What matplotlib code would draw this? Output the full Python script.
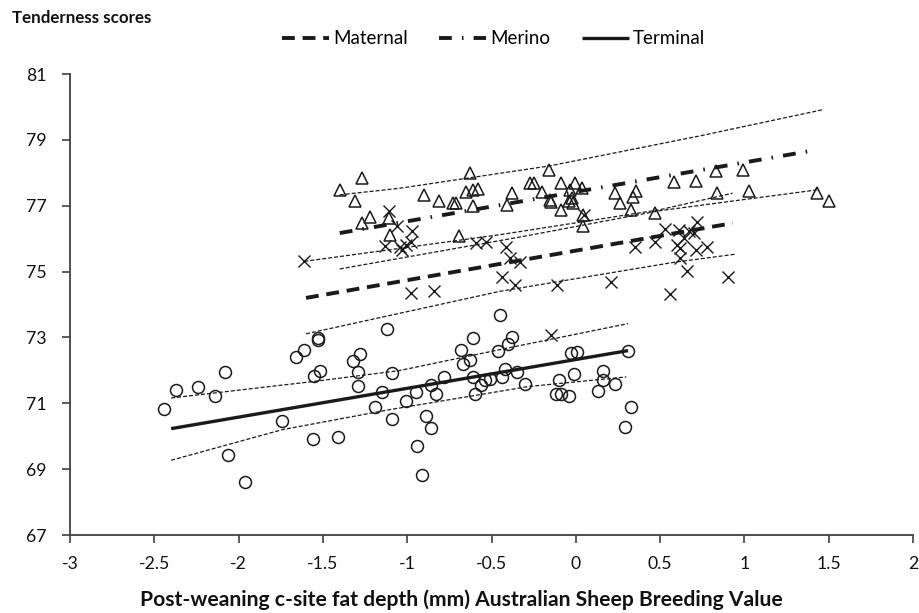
import matplotlib
matplotlib.use("Agg")
import matplotlib.pyplot as plt
from matplotlib.lines import Line2D
import numpy as np

# Terminal sires (circles)
term_x = [-2.44, -2.37, -2.24, -2.14, -2.08, -2.06, -1.96, -1.74, -1.66, -1.61,
          -1.53, -1.53, -1.56, -1.55, -1.52, -1.41, -1.32, -1.28, -1.29, -1.29,
          -1.12, -1.09, -1.15, -1.19, -1.09, -1.01, -0.95, -0.89, -0.86, -0.94,
          -0.91, -0.86, -0.83, -0.78, -0.68, -0.67, -0.63, -0.61, -0.61, -0.60,
          -0.56, -0.54, -0.51, -0.45, -0.46, -0.40, -0.38, -0.44, -0.42, -0.35,
          -0.30, -0.10, -0.12, -0.09, -0.04, -0.03, 0.01, -0.01, 0.13, 0.16,
          0.16, 0.23, 0.31, 0.33, 0.29]
term_y = [70.84, 71.41, 71.48, 71.23, 71.94, 69.44, 68.62, 70.47, 72.41, 72.63,
          72.98, 72.93, 69.93, 71.84, 71.97, 69.98, 72.29, 72.51, 71.95, 71.54,
          73.26, 71.92, 71.33, 70.89, 70.52, 71.08, 71.34, 70.60, 70.25, 69.71,
          68.81, 71.56, 71.29, 71.80, 72.63, 72.20, 72.30, 72.98, 71.80, 71.29,
          71.57, 71.70, 71.74, 73.69, 72.60, 72.80, 73.01, 71.80, 72.04, 71.94,
          71.59, 71.70, 71.29, 71.29, 71.21, 72.53, 72.57, 71.90, 71.37, 71.99,
          71.72, 71.59, 72.58, 70.89, 70.27]

# Maternal sires (crosses)
mat_x = [-1.61, -1.11, -1.06, -0.97, -0.975, -1.13, -1.04, -1.01, -1.03, -0.98,
         -0.84, -0.59, -0.53, -0.415, -0.39, -0.44, -0.36, -0.33, -0.11, 0.21,
         0.56, -0.15, 0.35, 0.47, 0.53, 0.05, 0.61, 0.72, 0.67, 0.64,
         0.70, 0.60, 0.62, 0.71, 0.78, 0.62, 0.66, 0.90]
mat_y = [75.31, 76.85, 76.37, 76.22, 75.91, 75.78, 75.74, 75.81, 75.66, 74.35,
         74.40, 75.86, 75.91, 75.74, 75.41, 74.85, 74.60, 75.28, 74.60, 74.67,
         74.32, 73.06, 75.76, 75.91, 76.29, 76.72, 76.27, 76.52, 76.22, 76.02,
         76.17, 75.81, 75.71, 75.66, 75.74, 75.41, 75.03, 74.85]

# Merino sires (triangles)
mer_x = [-1.40, -1.27, -1.31, -1.27, -1.22, -1.11, -1.10, -0.90, -0.81, -0.73,
         -0.71, -0.61, -0.69, -0.625, -0.65, -0.61, -0.58, -0.38, -0.41, -0.16,
         -0.27, -0.25, -0.20, -0.155, -0.145, -0.09, -0.085, -0.035, -0.005, -0.025,
         -0.016, -0.04, 0.034, 0.04, 0.04, 0.23, 0.26, 0.34, 0.36, 0.33,
         0.47, 0.58, 0.71, 0.83, 0.99, 0.84, 1.03, 1.43, 1.50]
mer_y = [77.48, 77.84, 77.13, 76.49, 76.65, 76.62, 76.12, 77.33, 77.13, 77.08,
         77.08, 76.98, 76.07, 77.99, 77.43, 77.48, 77.51, 77.38, 77.03, 78.09,
         77.69, 77.69, 77.43, 77.18, 77.10, 77.69, 76.88, 77.48, 77.69, 77.23,
         77.08, 77.13, 77.53, 76.73, 76.37, 77.38, 77.08, 77.25, 77.46, 76.88,
         76.78, 77.72, 77.74, 78.04, 78.09, 77.38, 77.46, 77.40, 77.13]

# regression lines
mat_fit_x = [-1.60, 0.93]
mat_fit_y = [74.20, 76.47]
mer_fit_x = [-1.40, 1.41]
mer_fit_y = [76.17, 78.68]
term_fit_x = [-2.40, 0.31]
term_fit_y = [70.23, 72.60]

# confidence bands
mat_up_x = [-1.61, -0.45, 0.50, 0.93]
mat_up_y = [75.31, 76.12, 76.88, 77.38]
mat_lo_x = [-1.60, -0.45, 0.58, 0.95]
mat_lo_y = [73.11, 74.40, 75.28, 75.53]
mer_up_x = [-1.40, -1.045, -0.154, 0.736, 1.46]
mer_up_y = [77.33, 77.53, 78.21, 79.12, 79.91]
mer_lo_x = [-1.40, -0.33, 0.50, 1.43]
mer_lo_y = [75.08, 76.05, 76.85, 77.48]
term_up_x = [-2.40, -1.56, -1.05, -0.45, 0.31]
term_up_y = [71.16, 71.66, 71.99, 72.63, 73.42]
term_lo_x = [-2.40, -1.74, -1.10, -0.28, 0.30]
term_lo_y = [69.27, 70.20, 70.81, 71.51, 71.80]

xticks = [-3, -2.5, -2, -1.5, -1, -0.5, 0, 0.5, 1, 1.5, 2]
xtick_labels = ["-3", "-2.5", "-2", "-1.5", "-1", "-0.5", "0", "0.5", "1", "1.5", "2"]
yticks = [67, 69, 71, 73, 75, 77, 79, 81]

plt.rcParams['font.family'] = ['Lato', 'DejaVu Sans']
INK = '#1a1a1a'
AXC = '#404040'

fig = plt.figure(figsize=(9.19, 6.13), dpi=100)
ax = fig.add_axes([70 / 919, 1 - 535 / 613, (913 - 70) / 919, (535 - 74) / 613])

mk = dict(linestyle='none', mfc='none', mec=INK, zorder=3)
ax.plot(term_x, term_y, marker='o', ms=8.6, mew=1.1, **mk)
ax.plot(mat_x, mat_y, marker='x', ms=8.0, mew=1.0, **mk)
ax.plot(mer_x, mer_y, marker='^', ms=8.6, mew=1.1, **mk)

# thin dotted confidence bands
band = dict(color=INK, lw=0.9, dashes=(3.2, 1.6), zorder=2)
for bx, by in [(mat_up_x, mat_up_y), (mat_lo_x, mat_lo_y),
               (mer_up_x, mer_up_y), (mer_lo_x, mer_lo_y),
               (term_up_x, term_up_y), (term_lo_x, term_lo_y)]:
    ax.plot(bx, by, **band)

mat_style = dict(color=INK, lw=2.8, dashes=(3.3, 2.0), dash_capstyle='butt')
mer_style = dict(color=INK, lw=2.8, dashes=(3.3, 2.6, 0.4, 2.6), dash_capstyle='butt')
term_style = dict(color=INK, lw=2.4, solid_capstyle='butt')
ax.plot(mat_fit_x, mat_fit_y, zorder=4, **mat_style)
ax.plot(mer_fit_x, mer_fit_y, zorder=4, **mer_style)
ax.plot(term_fit_x, term_fit_y, zorder=4, **term_style)

ax.set_xlim(-3, 2)
ax.set_ylim(67, 81)
ax.set_xticks(xticks)
ax.set_xticklabels(xtick_labels)
ax.set_yticks(yticks)
for s in ['top', 'right']:
    ax.spines[s].set_visible(False)
for s in ['left', 'bottom']:
    ax.spines[s].set_linewidth(1.3)
    ax.spines[s].set_color(AXC)
ax.tick_params(direction='out', length=6, width=1.2, color=AXC, labelsize=12.7,
               labelcolor='#111111')
ax.tick_params(axis='y', pad=11)
ax.tick_params(axis='x', pad=9)

handles = [Line2D([], [], **mat_style), Line2D([], [], **mer_style),
           Line2D([], [], **term_style)]
fig.legend(handles, ['Maternal', 'Merino', 'Terminal'], loc='center',
           bbox_to_anchor=(0.537, 1 - 39 / 613), ncol=3, frameon=False,
           fontsize=13.5, handlelength=2.5, handletextpad=0.2, columnspacing=1.7)

fig.text(12 / 919, 1 - 18 / 613, 'Tenderness scores', ha='left', va='center',
         fontweight='bold', fontsize=12.2, color='#111111')
fig.text(461 / 919, 1 - 600 / 613,
         'Post-weaning c-site fat depth (mm) Australian Sheep Breeding Value',
         ha='center', va='center', fontweight='bold', fontsize=15.2, color='#111111')

fig.savefig('out.png', dpi=100)
